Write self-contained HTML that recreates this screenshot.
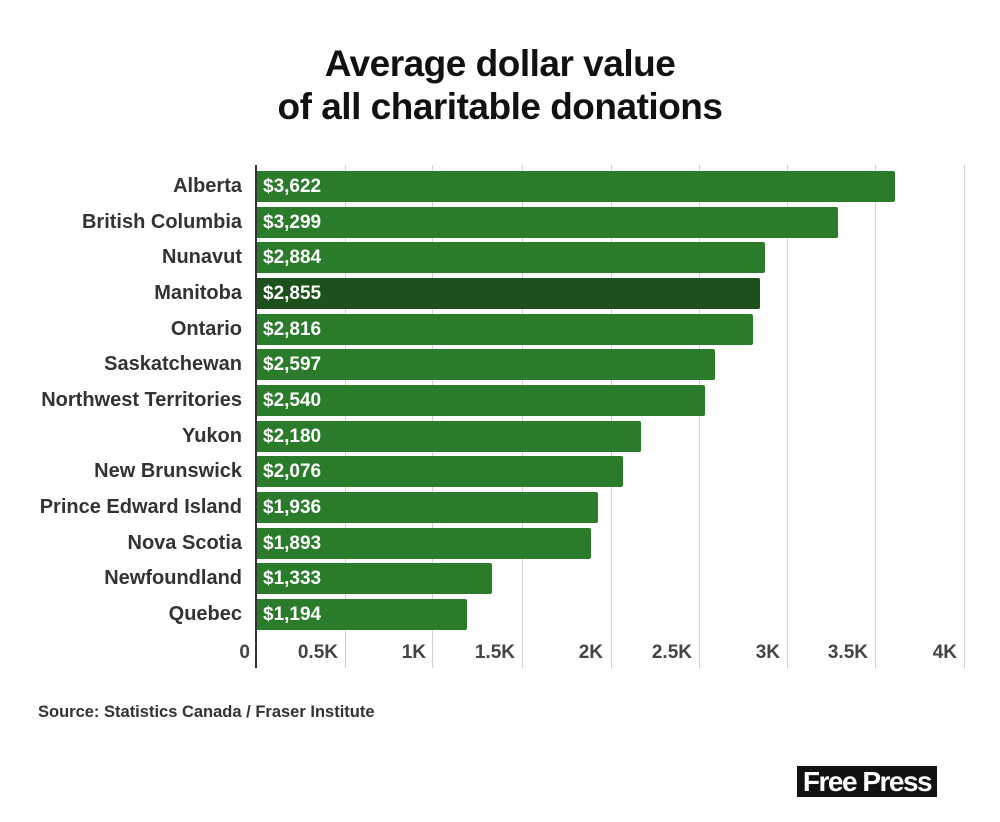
<!DOCTYPE html>
<html><head><meta charset="utf-8"><style>
body{margin:0;background:#fff;width:1000px;height:822px;overflow:hidden;font-family:"Liberation Sans",sans-serif;position:relative}
.t{position:absolute;left:0;width:1000px;text-align:center;font-weight:bold;font-size:37px;color:#111;letter-spacing:-0.5px}
.g{position:absolute;top:165px;height:503px;width:1px;background:#d0d0d0}
.bar{position:absolute;left:257px;height:31px;background:#2a7b2a;border-radius:0 2px 2px 0}
.v{position:absolute;left:263px;color:#fff;font-weight:bold;font-size:19px;line-height:31px}
.l{position:absolute;right:758px;font-weight:bold;font-size:20px;color:#333;line-height:31px;white-space:nowrap}
.x{position:absolute;top:642px;font-weight:bold;font-size:19px;color:#444;text-align:right;width:60px}
</style></head><body>
<div class="t" style="top:43px">Average dollar value</div>
<div class="t" style="top:86px">of all charitable donations</div>
<div class="g" style="left:345px"></div><div class="g" style="left:432px"></div><div class="g" style="left:522px"></div><div class="g" style="left:611px"></div><div class="g" style="left:699px"></div><div class="g" style="left:787px"></div><div class="g" style="left:875px"></div><div class="g" style="left:964px"></div>
<div style="position:absolute;left:255px;top:165px;width:2px;height:503px;background:#333"></div>
<div id="c"></div>
<div class="x" style="left:190px">0</div>
<div class="x" style="left:278px">0.5K</div>
<div class="x" style="left:366px">1K</div>
<div class="x" style="left:455px">1.5K</div>
<div class="x" style="left:543px">2K</div>
<div class="x" style="left:632px">2.5K</div>
<div class="x" style="left:720px">3K</div>
<div class="x" style="left:808px">3.5K</div>
<div class="x" style="left:897px">4K</div>
<div style="position:absolute;left:38px;top:703px;font-weight:bold;font-size:16.5px;color:#333">Source: Statistics Canada / Fraser Institute</div>
<div style="position:absolute;left:797px;top:766px;width:140px;height:31px;background:#111;color:#fff;font-weight:bold;font-size:28px;line-height:31px;text-align:center;letter-spacing:-1.5px">Free Press</div>
<script>
var d=[["Alberta",3622],["British Columbia",3299],["Nunavut",2884],["Manitoba",2855],["Ontario",2816],["Saskatchewan",2597],["Northwest Territories",2540],["Yukon",2180],["New Brunswick",2076],["Prince Edward Island",1936],["Nova Scotia",1893],["Newfoundland",1333],["Quebec",1194]];
var h="";d.forEach(function(r,i){var y=171+i*35.67;var w=r[1]*0.1762;
h+='<div class="bar" style="top:'+y+'px;width:'+w+'px;'+(i==3?'background:#1c511b':'')+'"></div>';
h+='<div class="v" style="top:'+y+'px">$'+r[1].toLocaleString("en-US")+'</div>';
h+='<div class="l" style="top:'+y+'px">'+r[0]+'</div>';});
document.getElementById("c").innerHTML=h;
</script>
</body></html>
